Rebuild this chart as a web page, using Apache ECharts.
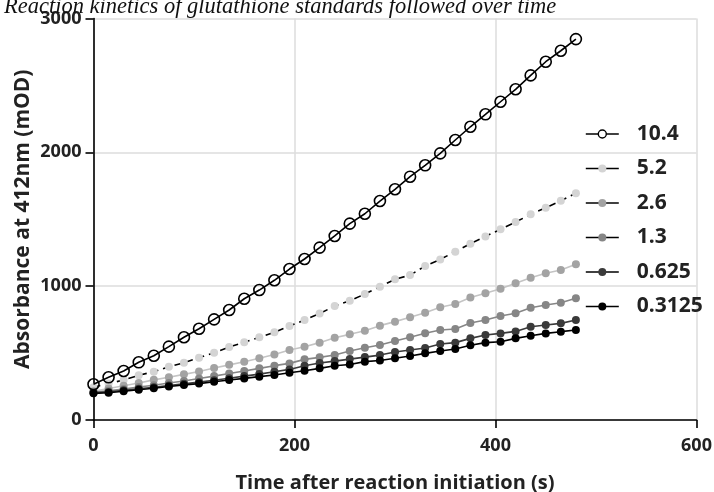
<!DOCTYPE html>
<html>
<head>
<meta charset="utf-8">
<script src="https://cdn.jsdelivr.net/npm/echarts@6/dist/echarts.min.js"></script>
<style>
html,body{margin:0;padding:0;background:#fff;}
#chart{width:714px;height:492px;}
</style>
</head>
<body>
<div id="chart"></div>
<script>
var times = [0,15,30,45,60,75,90,105,120,135,150,165,180,195,210,225,240,255,270,285,300,315,330,345,360,375,390,405,420,435,450,465,480];
var seriesNames = ['10.4','5.2','2.6','1.3','0.625','0.3125'];
var s10_4 = [267,319,366,431,480,548,618,682,752,822,906,971,1044,1128,1203,1288,1375,1467,1541,1636,1724,1818,1903,1992,2092,2191,2284,2378,2471,2575,2677,2759,2846];
var s5_2 = [245,272,299,334,361,398,428,465,502,545,581,618,655,702,747,795,852,891,941,996,1051,1083,1150,1200,1258,1317,1372,1425,1479,1537,1586,1638,1694];
var s2_6 = [215,236,256,276,300,319,341,363,388,412,435,462,490,523,548,578,615,640,667,705,735,767,802,842,867,915,947,981,1021,1063,1096,1121,1163];
var s1_3 = [207,218,232,246,260,276,292,310,328,347,366,386,406,423,453,468,486,515,540,560,590,618,648,672,680,725,747,777,797,839,859,876,909];
var s0_625 = [203,210,222,233,245,258,270,283,297,312,328,343,360,378,405,426,440,455,470,485,508,523,538,568,578,610,635,647,662,697,710,722,747];
var s0_3125 = [199,204,215,226,237,250,261,272,286,299,311,324,336,353,368,386,405,415,436,445,461,478,498,515,530,558,578,585,610,630,647,660,672];
var xTicks = [0,200,400,600];
var yTicks = [0,1000,2000,3000];

var allValues = [s10_4, s5_2, s2_6, s1_3, s0_625, s0_3125];
var markerColors = ['#000000','#d4d4d4','#a3a3a3','#868686','#3a3a3a','#000000'];
var lineColors = ['#000000','#000000','#c4c4c4','#868686','#3a3a3a','#000000'];

function pairs(vals){ return times.map(function(t,i){ return [t, vals[i]]; }); }

var FONT = '"Open Sans", "Noto Sans", sans-serif';
var series = seriesNames.map(function(n, k){
  var open = k === 0;
  return {
    name: n,
    type: 'line',
    data: pairs(allValues[k]),
    symbol: 'circle',
    symbolSize: open ? 11 : 8,
    showSymbol: true,
    animation: false,
    z: 2 + (open ? 10 : k),
    itemStyle: open ? {color: 'rgba(0,0,0,0)', borderColor: '#000', borderWidth: 1.6} : {color: markerColors[k], borderWidth: 0},
    lineStyle: {color: lineColors[k], width: 1.6, type: k === 1 ? [7,5] : 'solid'}
  };
});

var chart = echarts.init(document.getElementById('chart'), null, {renderer: 'canvas'});
chart.setOption({
  backgroundColor: '#ffffff',
  animation: false,
  title: {
    text: 'Reaction kinetics of glutathione standards followed over time',
    left: -1, top: -11,
    textStyle: {fontFamily: '"Liberation Serif", serif', fontStyle: 'italic', fontWeight: 'normal', fontSize: 22.5, color: '#111', lineHeight: 27}
  },
  grid: {left: 93.5, right: 17.5, top: 18.5, bottom: 72, containLabel: false, outerBoundsMode: 'none'},
  legend: {
    orient: 'vertical',
    left: 580, top: 118.5,
    itemWidth: 33, itemHeight: 10,
    itemGap: 13.5,
    textStyle: {fontFamily: FONT, fontSize: 21, fontWeight: 'bold', color: '#222', lineHeight: 21, padding: [0,0,0,13]},
    data: seriesNames.map(function(n, k){
      return {
        name: n,
        lineStyle: {color: '#000', type: 'solid', width: 1.6},
        itemStyle: k === 0 ? {color: '#ffffff', borderColor: '#000', borderWidth: 1.4} : {color: markerColors[k]}
      };
    })
  },
  xAxis: {
    type: 'value', min: xTicks[0], max: xTicks[xTicks.length-1], interval: xTicks[1]-xTicks[0],
    name: 'Time after reaction initiation (s)', nameLocation: 'middle', nameGap: 53, nameMoveOverlap: false,
    nameTextStyle: {fontFamily: FONT, fontSize: 20, fontWeight: 'bold', color: '#222'},
    axisLine: {show: true, onZero: false, lineStyle: {color: '#000', width: 1.6}},
    axisTick: {show: true, length: 8, inside: false, lineStyle: {color: '#000', width: 1.6}},
    axisLabel: {fontFamily: FONT, fontSize: 18, fontWeight: 'bold', color: '#222', margin: 17, formatter: function(v){ return String(v); }},
    splitLine: {show: true, lineStyle: {color: '#dcdcdc', width: 1.5}}
  },
  yAxis: {
    type: 'value', min: yTicks[0], max: yTicks[yTicks.length-1], interval: yTicks[1]-yTicks[0],
    name: 'Absorbance at 412nm (mOD)', nameLocation: 'middle', nameGap: 60, nameRotate: 90, nameMoveOverlap: false,
    nameTextStyle: {fontFamily: FONT, fontSize: 21, fontWeight: 'bold', color: '#222'},
    axisLine: {show: true, onZero: false, lineStyle: {color: '#000', width: 1.6}},
    axisTick: {show: true, length: 8, inside: false, lineStyle: {color: '#000', width: 1.6}},
    axisLabel: {fontFamily: FONT, fontSize: 18, fontWeight: 'bold', color: '#222', margin: 12, formatter: function(v){ return String(v); }},
    splitLine: {show: true, lineStyle: {color: '#dcdcdc', width: 1.5}}
  },
  series: series
});
</script>
</body>
</html>
